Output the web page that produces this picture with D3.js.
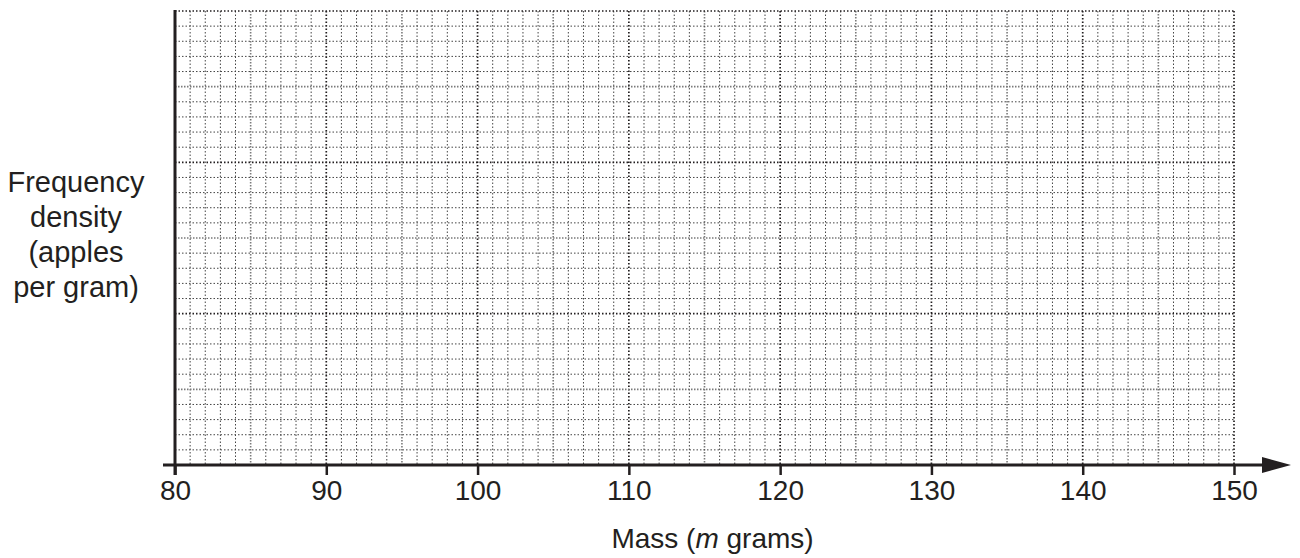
<!DOCTYPE html>
<html>
<head>
<meta charset="utf-8">
<script src="https://cdn.jsdelivr.net/npm/d3@7"></script>
<style>
  body { margin: 0; background: #fff; }
  text { font-family: "Liberation Sans", Arial, sans-serif; fill: #231f20; }
</style>
</head>
<body>
<div id="chart"></div>
<script>
// x axis: mass in grams, only the majors carry labels
const xTicks = [80, 90, 100, 110, 120, 130, 140, 150];
const xDomain = [80, 150];
// y axis: frequency density, no labels printed on the paper
const yDomain = [0, 3];
const yLabelLines = ["Frequency", "density", "(apples", "per gram)"];

const W = 1300, H = 558;
const margin = {left: 175, top: 11, right: 66, bottom: 93};

const svg = d3.select("#chart").append("svg")
  .attr("width", W).attr("height", H);

const x = d3.scaleLinear().domain(xDomain).range([margin.left, W - margin.right]);
const y = d3.scaleLinear().domain(yDomain).range([H - margin.bottom, margin.top]);

const grid = svg.append("g");

// minor grid, every 1 g and 0.1 on y
const xMinor = d3.range(xDomain[0] + 1, xDomain[1] + 0.5, 1);
const yMinor = d3.range(0.1, yDomain[1] + 0.05, 0.1).map(v => +v.toFixed(1));

function lineStyle(kind) {
  if (kind == "major") return {stroke: "#231f20", width: 1.7, dash: "1.5,2"};
  if (kind == "mid") return {stroke: "#7a7a7a", width: 1.6, dash: "1.5,1.5"};
  return {stroke: "#444", width: 1, dash: "1.5,2"};
}

grid.selectAll(".vx").data(xMinor).enter().append("line")
  .attr("class", "vx")
  .each(function(d) {
    let kind = d % 10 == 0 ? "major" : (d % 5 == 0 ? "mid" : "minor");
    let s = lineStyle(kind);
    d3.select(this)
      .attr("x1", x(d)).attr("x2", x(d))
      .attr("y1", y(yDomain[1])).attr("y2", y(0))
      .attr("stroke", s.stroke).attr("stroke-width", s.width)
      .attr("stroke-dasharray", s.dash);
  });

grid.selectAll(".hy").data(yMinor).enter().append("line")
  .attr("class", "hy")
  .each(function(d) {
    let k = Math.round(d * 10);
    let kind = k % 10 == 0 ? "major" : (k % 5 == 0 ? "mid" : "minor");
    let s = lineStyle(kind);
    d3.select(this)
      .attr("x1", x(xDomain[0])).attr("x2", x(xDomain[1]))
      .attr("y1", y(d)).attr("y2", y(d))
      .attr("stroke", s.stroke).attr("stroke-width", s.width)
      .attr("stroke-dasharray", s.dash);
  });

// y axis line
svg.append("line")
  .attr("x1", x(80)).attr("x2", x(80))
  .attr("y1", y(yDomain[1]) - 1).attr("y2", y(0) + 10)
  .attr("stroke", "#231f20").attr("stroke-width", 3);

// x axis with arrow
const axisY = y(0);
svg.append("line")
  .attr("x1", x(80) - 12).attr("x2", W - 30)
  .attr("y1", axisY).attr("y2", axisY)
  .attr("stroke", "#231f20").attr("stroke-width", 3);
svg.append("path")
  .attr("d", "M" + (W - 38) + "," + (axisY - 8) + "L" + (W - 9) + "," + axisY + "L" + (W - 38) + "," + (axisY + 8) + "Z")
  .attr("fill", "#231f20");

const xAxis = d3.axisBottom(x).tickValues(xTicks).tickSize(10).tickPadding(5).tickFormat(d3.format("d"));
const gx = svg.append("g").attr("transform", "translate(0," + axisY + ")").call(xAxis);
gx.select(".domain").remove();
gx.selectAll(".tick line").attr("stroke", "#231f20").attr("stroke-width", 2.5);
gx.selectAll(".tick text").attr("font-size", 28).attr("fill", "#231f20")
  .attr("font-family", "Liberation Sans, Arial, sans-serif");

// x axis title
const xt = svg.append("text")
  .attr("x", x(115) + 8).attr("y", 548)
  .attr("text-anchor", "middle").attr("font-size", 28);
xt.append("tspan").text("Mass (");
xt.append("tspan").attr("font-style", "italic").text("m");
xt.append("tspan").text(" grams)");

// y axis title
svg.append("g").selectAll("text").data(yLabelLines).enter().append("text")
  .attr("x", 76)
  .attr("y", (d, i) => 192 + i * 35)
  .attr("text-anchor", "middle")
  .attr("font-size", 29)
  .text(d => d);
</script>
</body>
</html>
